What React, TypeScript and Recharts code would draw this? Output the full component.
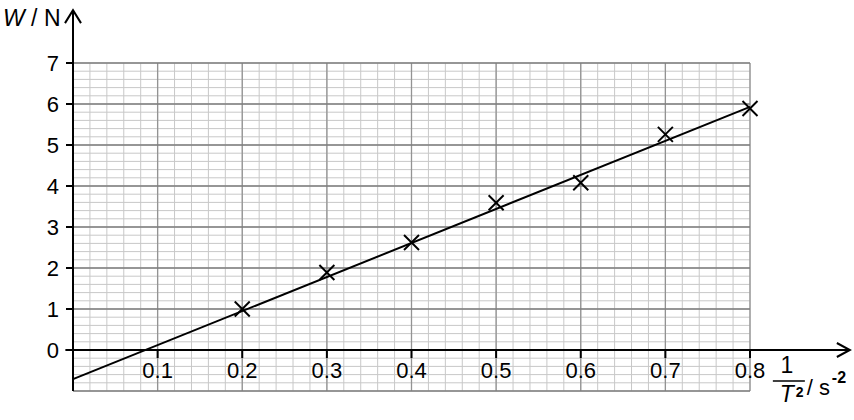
import React from "react";
import {
  ComposedChart,
  XAxis,
  YAxis,
  Scatter,
  ReferenceLine,
  ReferenceDot,
} from "recharts";

// measured points (1/T^2, W)
const invT2 = [0.2, 0.3, 0.4, 0.5, 0.6, 0.7, 0.8];
const weight = [1.0, 1.89, 2.62, 3.59, 4.08, 5.26, 5.89];

// best fit line end points
const fitX = [0, 0.8];
const fitW = [-0.71, 5.93];

const xTickLabels = ["0.1", "0.2", "0.3", "0.4", "0.5", "0.6", "0.7", "0.8"];
const yTicks = [0, 1, 2, 3, 4, 5, 6, 7];

const xMinor: number[] = [];
for (let i = 1; i <= 40; i++) xMinor.push(Math.round(i * 2) / 100);
const yMinor: number[] = [];
for (let i = 0; i <= 40; i++) yMinor.push(Math.round((-1 + i * 0.2) * 10) / 10);

const points = invT2.map((x, i) => ({ x, w: weight[i] }));
const fitLine = fitX.map((x, i) => ({ x, w: fitW[i] }));

const FONT = "'Liberation Sans', Arial, sans-serif";

const Cross = (props: any) => {
  const { cx, cy } = props;
  const s = 7.5;
  return (
    <g stroke="#000" strokeWidth={2}>
      <line x1={cx - s} y1={cy - s} x2={cx + s} y2={cy + s} />
      <line x1={cx - s} y1={cy + s} x2={cx + s} y2={cy - s} />
    </g>
  );
};

const NoDot = () => <g />;

const YArrow = (props: any) => {
  const { x1, y1, x2, y2 } = props;
  return (
    <g>
      <line x1={x1} y1={y1} x2={x2} y2={y2} stroke="#000" strokeWidth={2} />
      <polyline
        points={`${x2 - 8},${y2 + 13} ${x2},${y2} ${x2 + 8},${y2 + 13}`}
        fill="none"
        stroke="#000"
        strokeWidth={2}
      />
      <text x={x2 - 70} y={y2 + 16} fontFamily={FONT} fontSize={23} fill="#000">
        <tspan fontStyle="italic">W</tspan>
        <tspan> / N</tspan>
      </text>
    </g>
  );
};

const XArrow = (props: any) => {
  const { x1, y1, x2, y2 } = props;
  return (
    <g>
      <line x1={x1} y1={y1} x2={x2} y2={y2} stroke="#000" strokeWidth={2} />
      <polyline
        points={`${x2 - 13},${y2 - 7} ${x2},${y2} ${x2 - 13},${y2 + 7}`}
        fill="none"
        stroke="#000"
        strokeWidth={2}
      />
      <g fontFamily={FONT} fill="#000">
        <text x={x2 - 63} y={y2 + 23} fontSize={23} textAnchor="middle">1</text>
        <line x1={x2 - 77} y1={y2 + 31} x2={x2 - 45} y2={y2 + 31} stroke="#000" strokeWidth={1.5} />
        <text x={x2 - 70} y={y2 + 52} fontSize={23} fontStyle="italic">T</text>
        <text x={x2 - 54} y={y2 + 47} fontSize={14} fontWeight="bold">2</text>
        <text x={x2 - 43} y={y2 + 45} fontSize={22}>/ s</text>
        <text x={x2 - 18} y={y2 + 33} fontSize={16} fontWeight="bold">-2</text>
      </g>
    </g>
  );
};

const XTick = (props: any) => {
  const { cx, cy, label } = props;
  return (
    <g>
      <line x1={cx} y1={cy} x2={cx} y2={cy + 8} stroke="#000" strokeWidth={2} />
      <text x={cx} y={cy + 28} textAnchor="middle" fontFamily={FONT} fontSize={22} fill="#000">
        {label}
      </text>
    </g>
  );
};

export default function App() {
  return (
    <div style={{ position: "absolute", left: 0, top: 0, background: "#fff" }}>
      <ComposedChart
        width={854}
        height={420}
        margin={{ top: 63, right: 104, bottom: 29, left: 0 }}
      >
        <XAxis type="number" dataKey="x" domain={[0, 0.8]} hide />
        <YAxis
          type="number"
          dataKey="w"
          domain={[-1, 7]}
          ticks={yTicks}
          width={73}
          axisLine={false}
          tickSize={7}
          tickMargin={7}
          tickLine={{ stroke: "#000", strokeWidth: 2 }}
          tick={{ fill: "#000", fontSize: 22, fontFamily: FONT }}
        />
        {xMinor.map((v) => (
          <ReferenceLine key={"vx" + v} x={v} stroke="#c8c8c8" strokeWidth={1} ifOverflow="visible" />
        ))}
        {yMinor.map((v) => (
          <ReferenceLine key={"hy" + v} y={v} stroke="#c8c8c8" strokeWidth={1} ifOverflow="visible" />
        ))}
        {xTickLabels.map((t) => (
          <ReferenceLine key={"VX" + t} x={Number(t)} stroke="#939393" strokeWidth={1.3} ifOverflow="visible" />
        ))}
        {[-1, ...yTicks].map((v) => (
          <ReferenceLine key={"HY" + v} y={v} stroke="#7d7d7d" strokeWidth={1.3} ifOverflow="visible" />
        ))}
        <Scatter
          data={fitLine}
          dataKey="w"
          line={{ stroke: "#000", strokeWidth: 2 }}
          lineType="joint"
          shape={NoDot}
          isAnimationActive={false}
        />
        <Scatter data={points} dataKey="w" shape={Cross} isAnimationActive={false} />
        <ReferenceLine
          segment={[{ x: 0, y: -1 }, { x: 0, y: 8.29 }]}
          ifOverflow="visible"
          shape={YArrow}
        />
        <ReferenceLine
          segment={[{ x: -0.009, y: 0 }, { x: 0.918, y: 0 }]}
          ifOverflow="visible"
          shape={XArrow}
        />
        {xTickLabels.map((t) => (
          <ReferenceDot
            key={"tx" + t}
            x={Number(t)}
            y={0}
            r={0}
            ifOverflow="visible"
            shape={(p: any) => <XTick {...p} label={t} />}
          />
        ))}
      </ComposedChart>
    </div>
  );
}
